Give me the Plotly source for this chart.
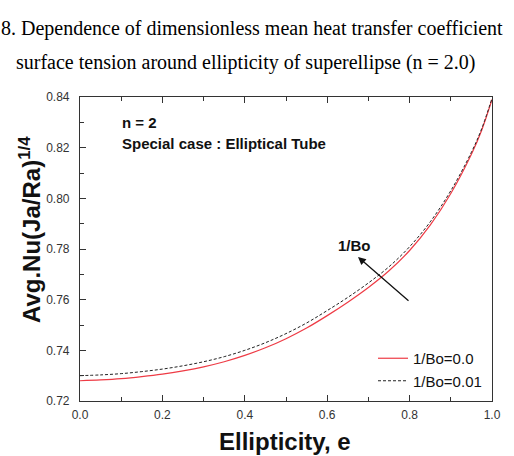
import plotly.graph_objects as go

e = [0.0, 0.05, 0.1, 0.15, 0.2, 0.25, 0.3, 0.35, 0.4, 0.45, 0.5, 0.55, 0.6, 0.65, 0.7, 0.75, 0.8, 0.85, 0.9, 0.95, 0.975, 1.0]
nu_bo0 = [0.7280, 0.7283, 0.7288, 0.7296, 0.7306, 0.7319, 0.7335, 0.7355, 0.7380, 0.7410, 0.7446, 0.7488, 0.7537, 0.7590, 0.7648, 0.7714, 0.7794, 0.7894, 0.8019, 0.8174, 0.8269, 0.8390]
nu_bo001 = [0.7300, 0.7303, 0.7308, 0.7316, 0.7326, 0.7339, 0.7355, 0.7375, 0.7400, 0.7430, 0.7466, 0.7508, 0.7557, 0.7609, 0.7666, 0.7730, 0.7809, 0.7907, 0.8030, 0.8182, 0.8275, 0.8395]

W, H = 514, 456
L, R, T, B = 80, 22, 97, 55
pw = W - L - R
ph = H - T - B

def px(xp):
    return (xp - L) / pw

def py(yp):
    return (H - B - yp) / ph

fig = go.Figure()
fig.add_trace(go.Scatter(x=e, y=nu_bo0, mode="lines", name="1/Bo=0.0",
                         line=dict(color="#ee3b45", width=1.2), line_shape="spline"))
fig.add_trace(go.Scatter(x=e, y=nu_bo001, mode="lines", name="1/Bo=0.01",
                         line=dict(color="#222222", width=1, dash="3px,2px"), line_shape="spline"))

axfont = dict(family="Liberation Sans, Arial", size=12, color="#333333")
fig.update_layout(
    width=W, height=H,
    margin=dict(l=L, r=R, t=T, b=B),
    paper_bgcolor="white", plot_bgcolor="white",
    showlegend=True,
    legend=dict(x=px(373), y=py(342), xanchor="left", yanchor="top",
                font=dict(family="Liberation Sans, Arial", size=15, color="#111"),
                bgcolor="rgba(0,0,0,0)", tracegroupgap=0),
    xaxis=dict(range=[0, 1], tick0=0, dtick=0.2, tickformat=".1f",
               ticks="inside", ticklen=6, tickcolor="#333", showgrid=False, zeroline=False,
               showline=True, linecolor="#333", linewidth=1.2, mirror="ticks",
               minor=dict(ticks="inside", dtick=0.1, ticklen=4, tickcolor="#333"),
               tickfont=axfont, ticklabelstandoff=2),
    yaxis=dict(range=[0.72, 0.84], tick0=0.72, dtick=0.02, tickformat=".2f",
               ticks="inside", ticklen=6, tickcolor="#333", showgrid=False, zeroline=False,
               showline=True, linecolor="#333", linewidth=1.2, mirror=True,
               minor=dict(ticks="inside", dtick=0.01, ticklen=4, tickcolor="#333"),
               tickfont=axfont, ticklabelstandoff=7),
)

serif = dict(family="Liberation Serif, Times New Roman", size=20, color="black")
bold = dict(family="Liberation Sans, Arial", color="#111")
anns = [
    dict(text="8. Dependence of dimensionless mean heat transfer coefficient", x=px(-1), y=py(28),
         xanchor="left", yanchor="middle", font=serif),
    dict(text="surface tension around ellipticity of superellipse (n = 2.0)", x=px(14), y=py(63),
         xanchor="left", yanchor="middle", font=serif),
    dict(text="<b>Ellipticity, e</b>", x=px(285), y=py(441), xanchor="center", yanchor="middle",
         font=dict(size=24, **bold)),
    dict(text="<b>Avg.Nu(Ja/Ra)<sup>1/4</sup></b>", x=px(30), y=py(230), xanchor="center", yanchor="middle",
         textangle=-90, font=dict(size=24, **bold)),
    dict(text="<b>n = 2</b>", x=px(120), y=py(122), xanchor="left", yanchor="middle",
         font=dict(size=15, **bold)),
    dict(text="<b>Special case : Elliptical Tube</b>", x=px(120), y=py(143), xanchor="left", yanchor="middle",
         font=dict(size=15, **bold)),
    dict(text="<b>1/Bo</b>", x=px(354), y=py(245), xanchor="center", yanchor="middle",
         font=dict(size=15, **bold)),
]
for a in anns:
    a.update(xref="paper", yref="paper", showarrow=False)
    fig.add_annotation(**a)

fig.add_annotation(xref="paper", yref="paper", x=px(358), y=py(257), ax=52, ay=45,
                   axref="pixel", ayref="pixel", text="", showarrow=True,
                   arrowhead=2, arrowsize=1.2, arrowwidth=1.3, arrowcolor="#111")

fig.write_html("out.html")
